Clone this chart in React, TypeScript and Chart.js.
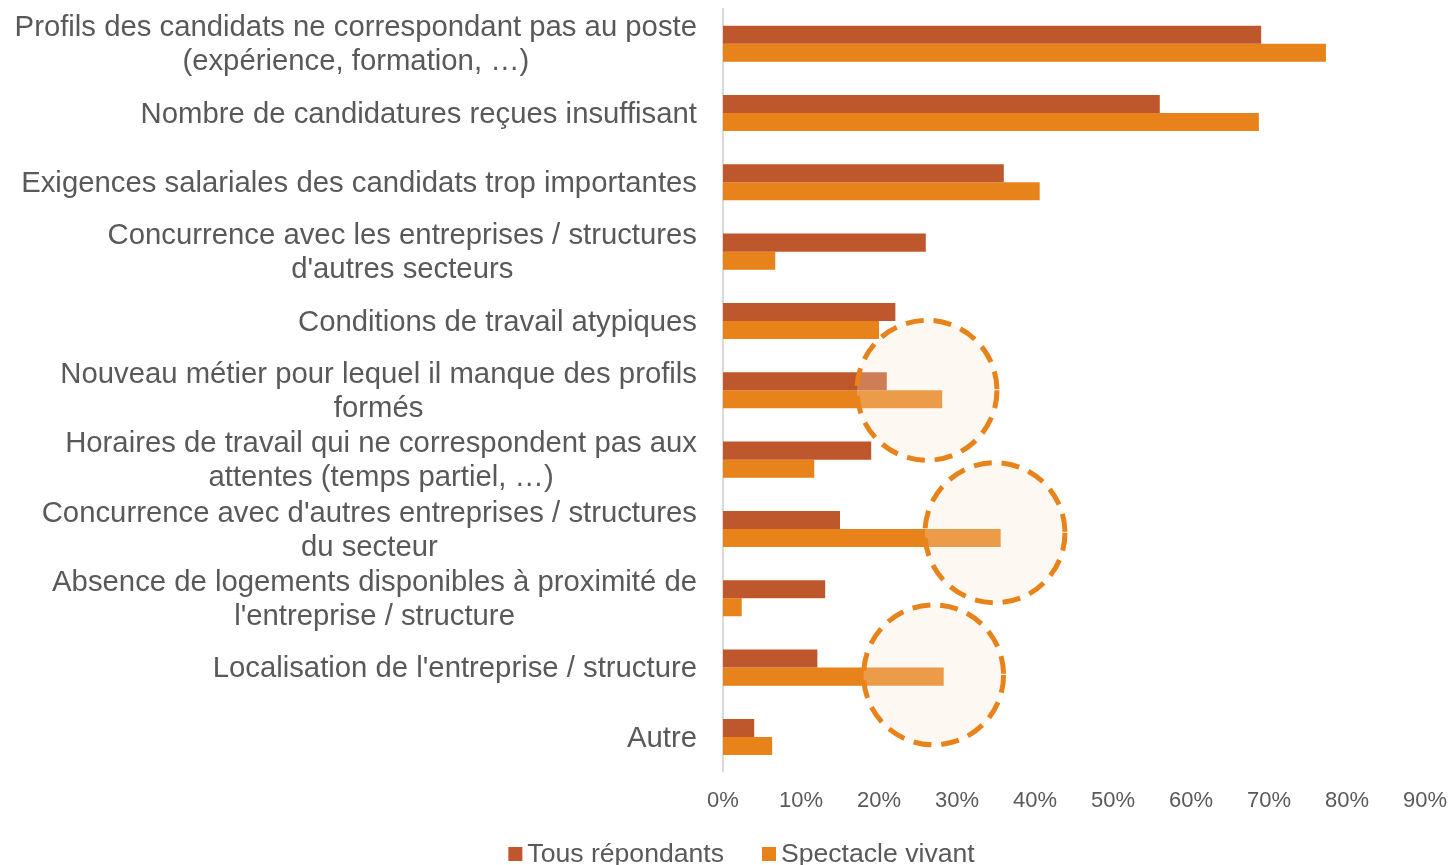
import React, { useEffect, useRef } from "react";
import { Chart, registerables } from "chart.js";

Chart.register(...registerables);

const categories: string[][] = [
  ["Profils des candidats ne correspondant pas au poste", "(expérience, formation, …)"],
  ["Nombre de candidatures reçues insuffisant"],
  ["Exigences salariales des candidats trop importantes"],
  ["Concurrence avec les entreprises / structures", "d'autres secteurs"],
  ["Conditions de travail atypiques"],
  ["Nouveau métier pour lequel il manque des profils", "formés"],
  ["Horaires de travail qui ne correspondent pas aux", "attentes (temps partiel, …)"],
  ["Concurrence avec d'autres entreprises / structures", "du secteur"],
  ["Absence de logements disponibles à proximité de", "l'entreprise / structure"],
  ["Localisation de l'entreprise / structure"],
  ["Autre"],
];

const seriesNames = ["Tous répondants", "Spectacle vivant"];
const tousRepondants = [69.0, 56.0, 36.0, 26.0, 22.1, 21.0, 19.0, 15.0, 13.1, 12.1, 4.0];
const spectacleVivant = [77.3, 68.7, 40.6, 6.7, 20.0, 28.1, 11.7, 35.6, 2.4, 28.3, 6.3];

const xTickValues = [0, 10, 20, 30, 40, 50, 60, 70, 80, 90];

// highlight circles: category position (index) and value (%)
const highlightCategory = [5.0, 7.055, 9.105];
const highlightValue = [26.15, 34.87, 27.0];

const FONT = "'Liberation Sans', Arial, sans-serif";
const TEXT = "#595959";
const COLOR_TOUS = "#BF572C";
const COLOR_SPEC = "#E8821A";

const circlesPlugin = {
  id: "circles",
  afterDatasetsDraw(chart: any) {
    const { ctx, scales } = chart;
    const r = 70;
    ctx.save();
    for (let i = 0; i < highlightValue.length; i++) {
      const cx = scales.x.getPixelForValue(highlightValue[i]);
      const cy = scales.y.getPixelForValue(highlightCategory[i]);
      ctx.beginPath();
      ctx.arc(cx, cy, r, 0, Math.PI * 2);
      ctx.fillStyle = "rgba(247,228,204,0.27)";
      ctx.fill();
      ctx.setLineDash([18, 10]);
      ctx.lineWidth = 5;
      ctx.strokeStyle = COLOR_SPEC;
      ctx.stroke();
    }
    ctx.restore();
  },
};

const labelsPlugin = {
  id: "labelsLegend",
  afterDraw(chart: any) {
    const { ctx, scales } = chart;
    const labels = chart.data.labels as string[][];
    const right = scales.y.right - 26;
    const lh = 34;
    ctx.save();
    ctx.font = `29.3px ${FONT}`;
    ctx.fillStyle = TEXT;
    ctx.textAlign = "center";
    ctx.textBaseline = "middle";
    labels.forEach((lines, i) => {
      const cy = scales.y.getPixelForValue(i) + 1.5;
      const widest = Math.max(...lines.map((l) => ctx.measureText(l).width));
      const cx = right - widest / 2;
      lines.forEach((line, j) => {
        ctx.fillText(line, cx, cy + (j - (lines.length - 1) / 2) * lh);
      });
    });

    // legend
    ctx.font = `26.6px ${FONT}`;
    ctx.textAlign = "left";
    ctx.textBaseline = "alphabetic";
    const box = 14;
    const gapText = 5;
    const gapItem = 38;
    const ds = chart.data.datasets;
    const widths = ds.map((d: any) => box + gapText + ctx.measureText(d.label).width);
    const total = widths.reduce((a: number, b: number) => a + b, 0) + gapItem * (ds.length - 1);
    let x = chart.width / 2 + 14 - total / 2;
    const baseline = 862;
    ds.forEach((d: any, i: number) => {
      ctx.fillStyle = d.backgroundColor;
      ctx.fillRect(x, 847, box, box);
      ctx.fillStyle = TEXT;
      ctx.fillText(d.label, x + box + gapText, baseline);
      x += widths[i] + gapItem;
    });
    ctx.restore();
  },
};

export default function App() {
  const ref = useRef<HTMLCanvasElement | null>(null);

  useEffect(() => {
    if (!ref.current) return;
    const chart = new Chart(ref.current, {
      type: "bar",
      data: {
        labels: categories as any,
        datasets: [
          {
            label: seriesNames[0],
            data: tousRepondants,
            backgroundColor: COLOR_TOUS,
            barPercentage: 1,
            categoryPercentage: 0.52,
          },
          {
            label: seriesNames[1],
            data: spectacleVivant,
            backgroundColor: COLOR_SPEC,
            barPercentage: 1,
            categoryPercentage: 0.52,
          },
        ],
      },
      options: {
        indexAxis: "y",
        responsive: false,
        animation: false,
        layout: { padding: { left: 0, right: 30, top: 9, bottom: 35 } },
        plugins: {
          legend: { display: false },
          tooltip: { enabled: false },
        },
        scales: {
          x: {
            type: "linear",
            min: 0,
            max: 90,
            afterBuildTicks: (scale: any) => {
              scale.ticks = xTickValues.map((v) => ({ value: v }));
            },
            afterFit: (scale: any) => {
              scale.paddingLeft = 0;
              scale.paddingRight = 0;
            },
            ticks: {
              callback: (v: any) => `${v}%`,
              font: { family: FONT, size: 22 },
              color: TEXT,
              padding: 16,
              maxRotation: 0,
            },
            grid: { display: false, drawTicks: false },
            border: { display: false },
          },
          y: {
            type: "category",
            ticks: { display: false },
            grid: { display: false, drawTicks: false },
            border: { display: true, color: "#D9D9D9", width: 2 },
            afterFit: (scale: any) => {
              scale.width = 723;
            },
          },
        },
      },
      plugins: [circlesPlugin, labelsPlugin],
    });
    return () => chart.destroy();
  }, []);

  return (
    <div style={{ position: "fixed", left: 0, top: 0, width: 1455, height: 865, background: "#fff" }}>
      <canvas ref={ref} width={1455} height={865} style={{ display: "block" }} />
    </div>
  );
}
